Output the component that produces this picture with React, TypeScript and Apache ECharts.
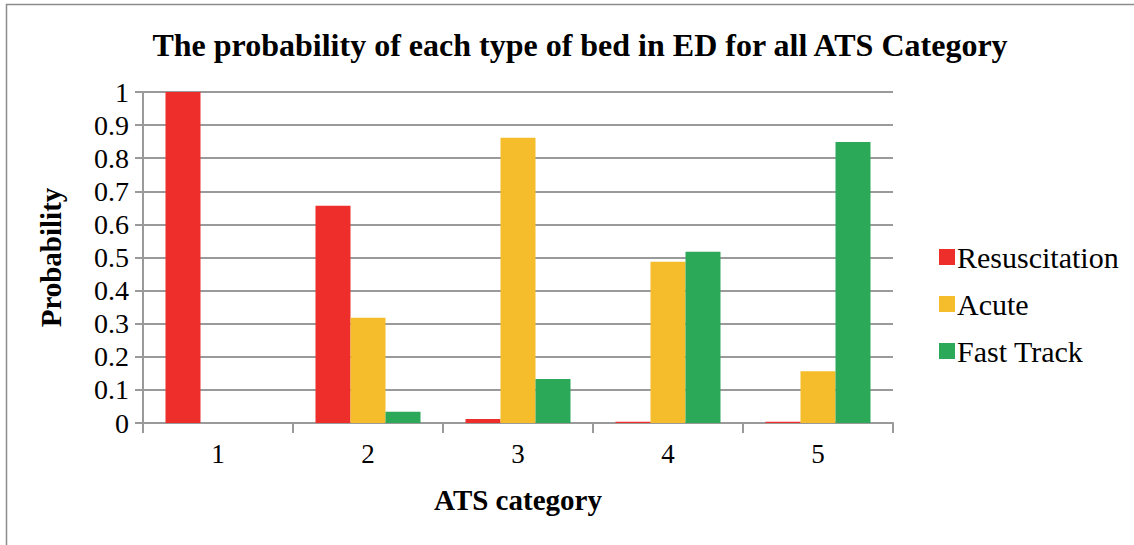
import React, { useEffect, useRef } from "react";
import * as echarts from "echarts";

const categories = ["1", "2", "3", "4", "5"];
const resuscitation = [1.0, 0.656, 0.012, 0.004, 0.004];
const acute = [0, 0.318, 0.862, 0.487, 0.156];
const fastTrack = [0, 0.034, 0.133, 0.517, 0.849];

const FONT = "Times New Roman, Liberation Serif, serif";
const GRID_COLOR = "#9a9a9a";

export default function App() {
  const ref = useRef<HTMLDivElement>(null);

  useEffect(() => {
    if (!ref.current) return;
    const chart = echarts.init(ref.current, null, { renderer: "svg" });
    chart.setOption({
      animation: false,
      backgroundColor: "#ffffff",
      textStyle: { fontFamily: FONT },
      title: {
        text: "The probability of each type of bed in ED for all ATS Category",
        left: 575,
        textAlign: "center",
        top: 24,
        textStyle: { fontFamily: FONT, fontWeight: "bold", fontSize: 32, color: "#000" },
      },
      graphic: [
        {
          type: "rect",
          shape: { x: 6.5, y: 4.5, width: 1200, height: 700 },
          style: { fill: "none", stroke: "#8c8c8c", lineWidth: 1.5 },
          silent: true,
        },
      ],
      legend: {
        orient: "vertical",
        left: 934,
        top: 237,
        itemWidth: 16,
        itemHeight: 16,
        itemGap: 17,
        icon: "rect",
        textStyle: { fontFamily: FONT, fontSize: 30, color: "#000", padding: [0, 0, 0, -3] },
        data: ["Resuscitation", "Acute", "Fast Track"],
      },
      grid: { left: 143, right: 241, top: 92, bottom: 122, containLabel: false },
      xAxis: {
        type: "category",
        data: categories,
        name: "ATS category",
        nameLocation: "middle",
        nameGap: 62,
        nameTextStyle: { fontFamily: FONT, fontWeight: "bold", fontSize: 29, color: "#000" },
        axisLine: { lineStyle: { color: GRID_COLOR, width: 2 } },
        axisTick: { show: true, length: 10, lineStyle: { color: GRID_COLOR, width: 2 } },
        axisLabel: { fontFamily: FONT, fontSize: 27, color: "#000", margin: 17 },
      },
      yAxis: {
        type: "value",
        min: 0,
        max: 1,
        interval: 0.1,
        name: "Probability",
        nameLocation: "middle",
        nameGap: 78,
        nameTextStyle: { fontFamily: FONT, fontWeight: "bold", fontSize: 29, color: "#000" },
        axisLine: { show: true, lineStyle: { color: GRID_COLOR, width: 2 } },
        axisTick: { show: true, length: 8, lineStyle: { color: GRID_COLOR, width: 2 } },
        splitLine: { lineStyle: { color: GRID_COLOR, width: 2 } },
        axisLabel: {
          fontFamily: FONT,
          fontSize: 28,
          color: "#000",
          margin: 14,
          formatter: (v: number) => String(Math.round(v * 10) / 10),
        },
      },
      series: [
        {
          name: "Resuscitation",
          type: "bar",
          data: resuscitation,
          itemStyle: { color: "#ee2e2b" },
          barGap: "0%",
          barCategoryGap: "30%",
        },
        {
          name: "Acute",
          type: "bar",
          data: acute,
          itemStyle: { color: "#f5bc2c" },
        },
        {
          name: "Fast Track",
          type: "bar",
          data: fastTrack,
          itemStyle: { color: "#2ba858" },
        },
      ],
    });
    return () => chart.dispose();
  }, []);

  return <div ref={ref} style={{ width: 1134, height: 545, position: "absolute", left: 0, top: 0 }} />;
}
